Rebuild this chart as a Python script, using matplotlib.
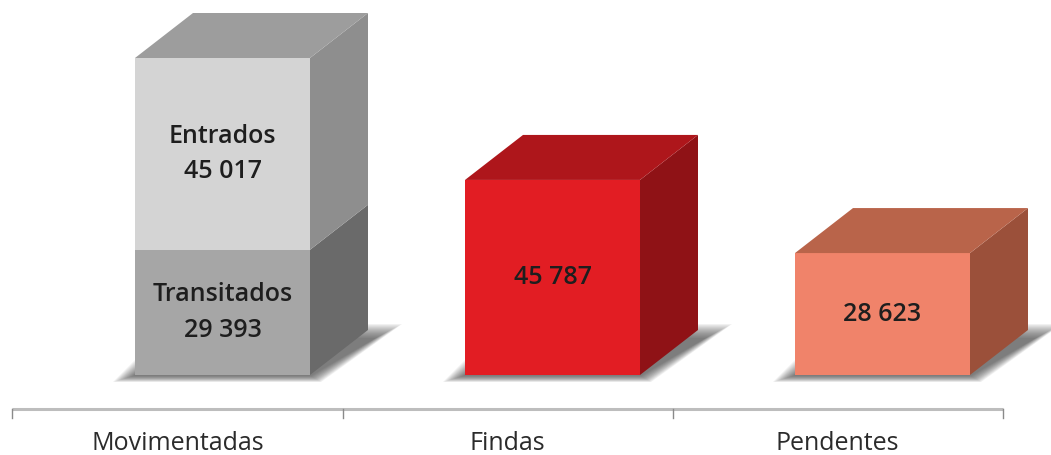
import matplotlib.pyplot as plt
from matplotlib.patches import Polygon
import numpy as np

plt.rcParams['font.family'] = ['Open Sans', 'DejaVu Sans']

#####################################
# data
#####################################
categories = ['Movimentadas', 'Findas', 'Pendentes']
seg_labels = [['Transitados', 'Entrados'], [''], ['']]
seg_values = [[29393, 45017], [45787], [28623]]

# front, side, top colours for each segment
front_cols = [['#a6a6a6', '#d4d4d4'], ['#e21d23'], ['#f0836a']]
side_cols = [['#6a6a6a', '#8e8e8e'], ['#8f1216'], ['#9b503a']]
top_cols = [['#6a6a6a', '#9d9d9d'], ['#ae161b'], ['#b9644a']]

#####################################
# geometry (pixel -> data helpers)
#####################################
W, H = 1051, 455
px = 1 / 330.0                                 # x units per pixel
vpp = max(sum(v) for v in seg_values) / 317.0  # values per pixel
base_px = 375                                  # floor row in pixels

off = -42.5 * px       # front face left edge relative to category centre
bw = 175 * px          # front face width
dx = 58 * px           # depth offset
dy = 45 * vpp

fig = plt.figure(figsize=(W / 100, H / 100), dpi=100)
ax = fig.add_axes([0, 0, 1, 1])
ax.set_xlim(-177.5 * px, (W - 177.5) * px)
ax.set_ylim(-(H - base_px) * vpp, base_px * vpp)
ax.axis('off')


def poly(pts, col, z, alpha=1.0):
    ax.add_patch(Polygon(pts, closed=True, facecolor=col, edgecolor='none',
                         alpha=alpha, zorder=z))


def fmt(v):
    return f'{v:,}'.replace(',', ' ')


for i, cat in enumerate(categories):
    x0 = i + off
    x1 = x0 + bw

    # soft floor shadow
    n = 14
    for k in range(n):
        t = 1 - k / (n - 1)
        e = (2 + 20 * t) * px
        er = (8 + 26 * t) * px
        ev = (1 + 6 * t) * vpp
        et = (-8 + 14 * t) * vpp
        pts = [(x0 - e, -ev), (x1 + e * 0.5, -ev),
               (x1 + dx + er, dy + et), (x0 + dx - e, dy + et)]
        poly(pts, '#3c3c3c', 1, alpha=0.07)

    bottom = 0
    vals = seg_values[i]
    for j, v in enumerate(vals):
        top = bottom + v
        # side face
        poly([(x1, bottom), (x1 + dx, bottom + dy), (x1 + dx, top + dy), (x1, top)],
             side_cols[i][j], 2 + j)
        # front face
        poly([(x0, bottom), (x1, bottom), (x1, top), (x0, top)],
             front_cols[i][j], 2 + j)
        if j == len(vals) - 1:
            poly([(x0, top), (x1, top), (x1 + dx, top + dy), (x0 + dx, top + dy)],
                 top_cols[i][j], 2 + j)
        lab = seg_labels[i][j]
        txt = f'{lab}\n{fmt(v)}' if lab else fmt(v)
        ax.text((x0 + x1) / 2, bottom + v / 2, txt, ha='center', va='center',
                fontsize=18, fontweight='semibold', color='#1e1e1e',
                linespacing=1.55, zorder=10)
        bottom = top

    ax.text(i, -75 * vpp, cat, ha='center', va='baseline', fontsize=18,
            color='#2b2b2b', zorder=10)

# category axis
axis_y = -34 * vpp
edges = np.arange(len(categories) + 1) - 0.5
ax.plot([edges[0], edges[-1]], [axis_y, axis_y], color='#bdbdbd', lw=2.2,
        solid_capstyle='butt', zorder=1)
for e in edges:
    ax.plot([e, e], [axis_y, axis_y - 9 * vpp], color='#8a8a8a', lw=1.0, zorder=1)

fig.savefig('out.png', dpi=100)
